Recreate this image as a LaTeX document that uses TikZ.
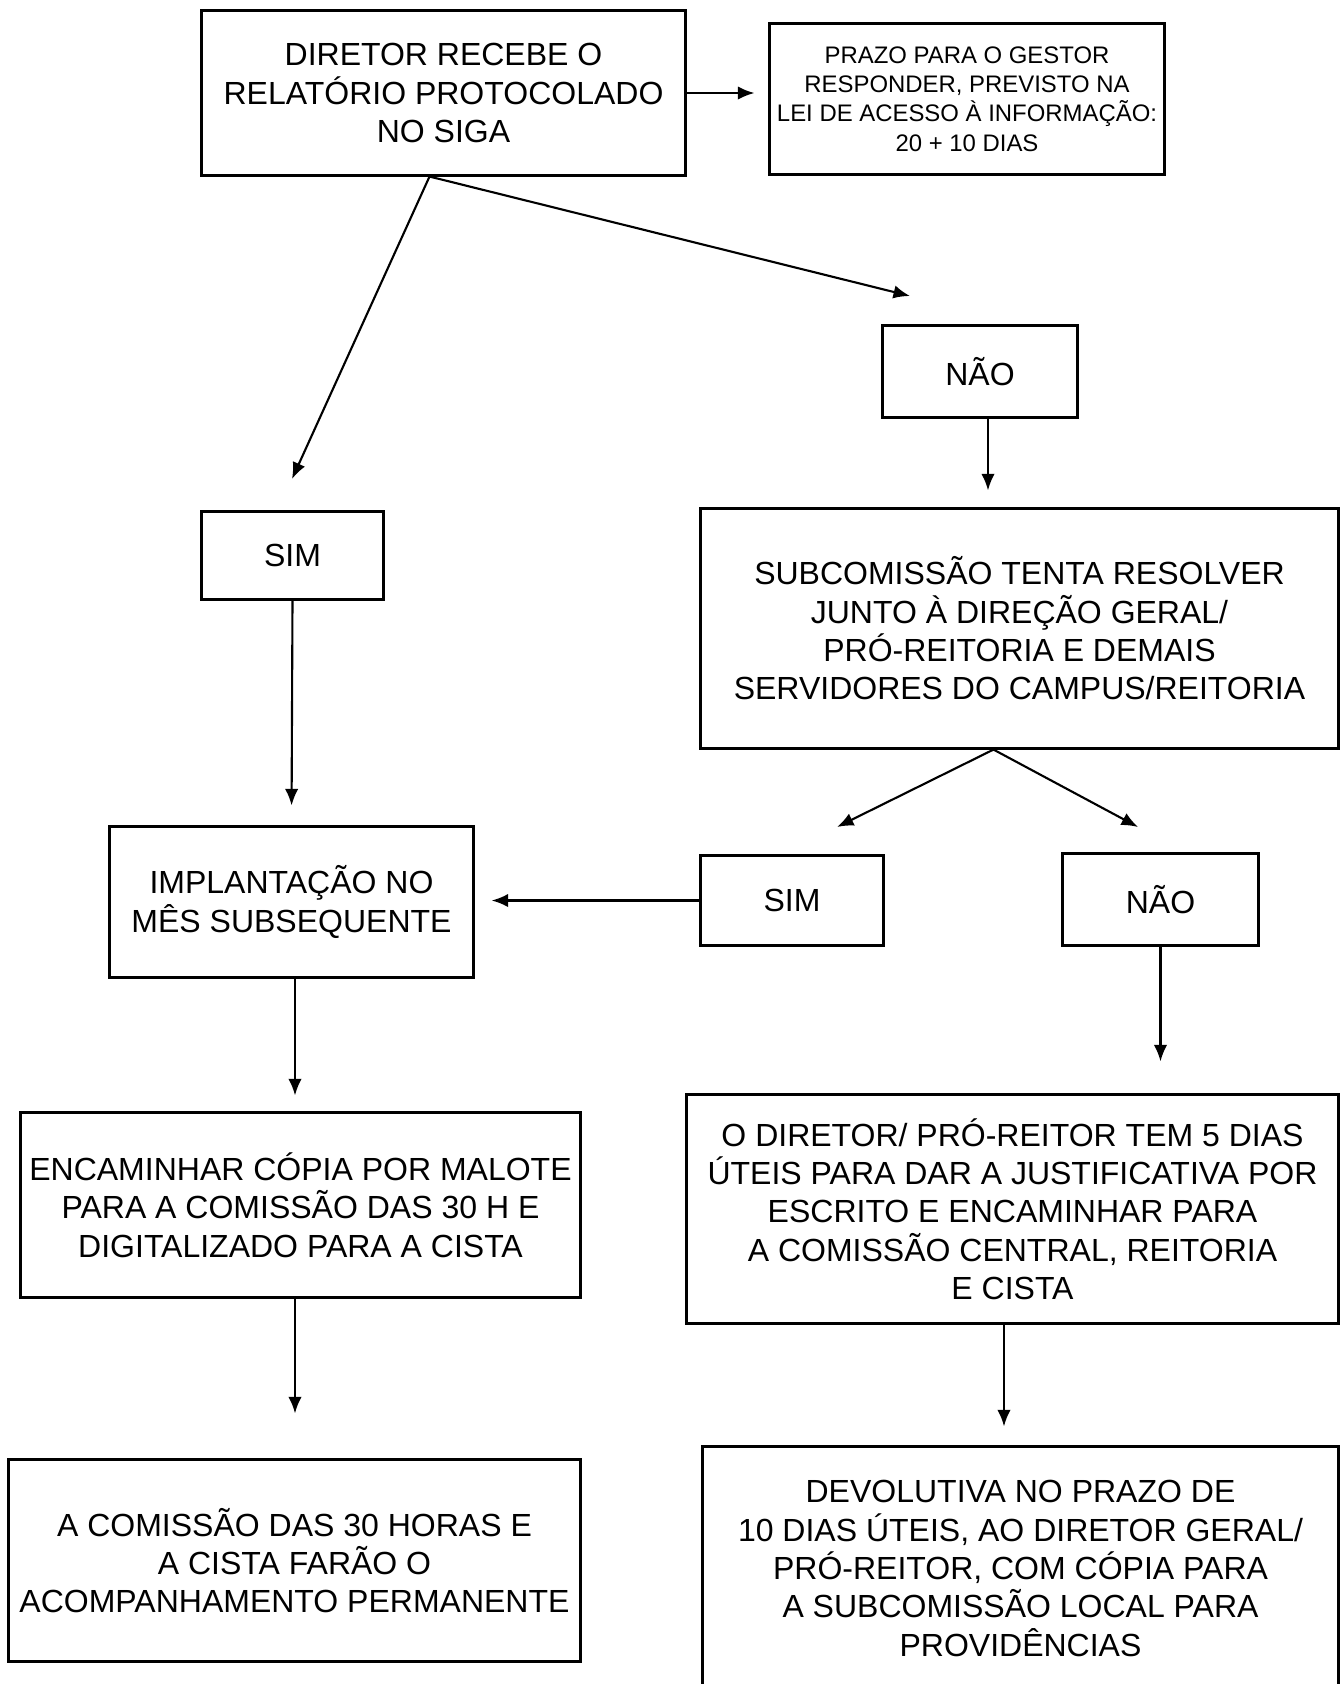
\documentclass[tikz,border=0pt]{standalone}
\usepackage{fontspec}
\setmainfont{Liberation Sans}
\usepackage{tikz}
\usetikzlibrary{arrows.meta,calc}
\tikzset{>={Latex[length=4.7pt,width=3.8pt]}}
\tikzset{
  caixa/.style={draw,line width=0.85pt,align=center,inner sep=2pt,
    font=\fontsize{9.1}{10.9}\selectfont},
  seta/.style={->,line width=0.6pt}
}

\begin{document}
\begin{tikzpicture}[x=0.01cm,y=-0.01cm]
      \useasboundingbox (0,0) rectangle (1341,1684);
      \clip (0,0) rectangle (1341,1684);
      % caixas
      \node[caixa,minimum width=4.83cm,minimum height=1.64cm] (diretor) at (443.5,93)
        {DIRETOR RECEBE O\\RELATÓRIO PROTOCOLADO\\NO SIGA};
      \node[caixa,minimum width=3.92cm,minimum height=1.50cm,
        font=\fontsize{6.8}{8.3}\selectfont] (prazo) at (967,99)
        {PRAZO PARA O GESTOR\\RESPONDER, PREVISTO NA\\LEI DE ACESSO À INFORMAÇÃO:\\20 + 10 DIAS};
      \node[caixa,minimum width=1.94cm,minimum height=0.91cm] (nao1) at (980,371.5) {NÃO};
      \node[caixa,minimum width=1.81cm,minimum height=0.87cm] (sim1) at (292.5,555.5) {SIM};
      \node[caixa,minimum width=6.37cm,minimum height=2.39cm] (sub) at (1019.5,628.5)
        {SUBCOMISSÃO TENTA RESOLVER\\JUNTO À DIREÇÃO GERAL/\\PRÓ-REITORIA E DEMAIS\\SERVIDORES DO CAMPUS/REITORIA};
      \node[caixa,minimum width=3.63cm,minimum height=1.50cm] (impl) at (291.5,902)
        {IMPLANTAÇÃO NO\\MÊS SUBSEQUENTE};
      \node[caixa,minimum width=1.82cm,minimum height=0.89cm] (sim2) at (792,900.5) {SIM};
      \node[caixa,minimum width=1.95cm,minimum height=0.91cm] (nao2) at (1160.5,899.5) {NÃO};
      \node[caixa,minimum width=5.59cm,minimum height=1.84cm] (enc) at (300.5,1205)
        {ENCAMINHAR CÓPIA POR MALOTE\\PARA A COMISSÃO DAS 30 H E\\DIGITALIZADO PARA A CISTA};
      \node[caixa,minimum width=6.51cm,minimum height=2.28cm] (just) at (1012.5,1209)
        {O DIRETOR/ PRÓ-REITOR TEM 5 DIAS\\ÚTEIS PARA DAR A JUSTIFICATIVA POR\\ESCRITO E ENCAMINHAR PARA\\A COMISSÃO CENTRAL, REITORIA\\E CISTA};
      \node[caixa,minimum width=5.71cm,minimum height=2.01cm] (acomp) at (294.5,1560.5)
        {A COMISSÃO DAS 30 HORAS E\\A CISTA FARÃO O\\ACOMPANHAMENTO PERMANENTE};
      \node[caixa,minimum width=6.35cm,minimum height=2.43cm] (devol) at (1020.5,1568.5)
        {DEVOLUTIVA NO PRAZO DE\\10 DIAS ÚTEIS, AO DIRETOR GERAL/\\PRÓ-REITOR, COM CÓPIA PARA\\A SUBCOMISSÃO LOCAL PARA\\PROVIDÊNCIAS};
      % pontas livres
      \coordinate (saida) at ($(diretor.south)+(-14,0)$);
      \coordinate (psim) at (292,479);
      \coordinate (pnao) at (910,296);
      \coordinate (divide) at ($(sub.south)+(-26,0)$);
      \coordinate (psim2) at (837,827);
      \coordinate (pnao2) at (1138,827);
      % setas
      \draw[seta,shorten >=0.14cm] (diretor.east) -- (diretor.east -| prazo.west);
      \draw[seta] (saida) -- (psim);
      \draw[seta] (saida) -- (pnao);
      \draw[seta,shorten >=0.17cm] ([xshift=0.08cm]nao1.south) -- ([xshift=0.08cm]nao1.south |- sub.north);
      \draw[seta,shorten >=0.20cm] (sim1.south) -- (impl.north);
      \draw[seta] (divide) -- (psim2);
      \draw[seta] (divide) -- (pnao2);
      \draw[seta,shorten >=0.17cm] (sim2.west) -- (sim2.west -| impl.east);
      \draw[seta,shorten >=0.32cm] (nao2.south) -- (nao2.south |- just.north);
      \draw[seta,shorten >=0.16cm] ([xshift=0.035cm]impl.south) -- ([xshift=0.035cm]impl.south |- enc.north);
      \draw[seta,shorten >=0.45cm] ([xshift=-0.055cm]enc.south) -- ([xshift=-0.055cm]enc.south |- acomp.north);
      \draw[seta,shorten >=0.19cm] ([xshift=-0.085cm]just.south) -- ([xshift=-0.085cm]just.south |- devol.north);
\end{tikzpicture}
\end{document}
